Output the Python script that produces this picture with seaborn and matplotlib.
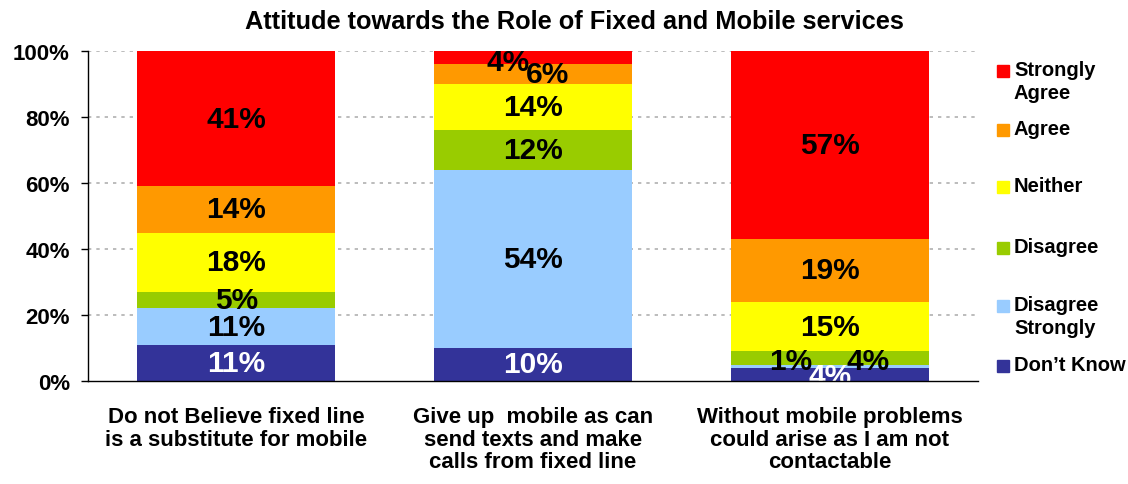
import matplotlib
matplotlib.use("Agg")
import matplotlib.pyplot as plt
from matplotlib.patches import Rectangle
import numpy as np
import pandas as pd
import seaborn as sns

# Survey data (percent of respondents)
statements = [
    "Do not Believe fixed line\nis a substitute for mobile",
    "Give up  mobile as can\nsend texts and make\ncalls from fixed line",
    "Without mobile problems\ncould arise as I am not\ncontactable",
]
responses = ["Don\u2019t Know", "Disagree\nStrongly", "Disagree", "Neither", "Agree", "Strongly\nAgree"]
dont_know = [11, 10, 4]
disagree_strongly = [11, 54, 1]
disagree = [5, 12, 4]
neither = [18, 14, 15]
agree = [14, 6, 19]
strongly_agree = [41, 4, 57]

colors = ["#333399", "#99CCFF", "#99CC00", "#FFFF00", "#FF9900", "#FF0000"]
label_colors = ["white", "black", "black", "black", "black", "black"]

series = [dont_know, disagree_strongly, disagree, neither, agree, strongly_agree]
values = np.array(series, dtype=float)          # shape (response, statement)
cum = np.cumsum(values, axis=0)

sns.set_theme(style="white")
plt.rcParams["font.family"] = ["Liberation Sans", "DejaVu Sans"]
plt.rcParams["font.weight"] = "bold"
plt.rcParams["text.color"] = "black"
plt.rcParams["xtick.color"] = "black"
plt.rcParams["ytick.color"] = "black"

fig = plt.figure(figsize=(11.28, 4.85), dpi=100)
ax = fig.add_axes([88 / 1128, 1 - 382 / 485, (978 - 88) / 1128, (382 - 52) / 485])

# Stack by overlaying cumulative totals, tallest first
for i in range(len(responses) - 1, -1, -1):
    df = pd.DataFrame({"statement": statements, "total": cum[i]})
    sns.barplot(data=df, x="statement", y="total", color=colors[i],
                saturation=1, width=0.667, ax=ax, zorder=2, edgecolor="none")

# Segment value labels; small segments are nudged aside
offsets = {(1, 5): (-0.084, -1.3), (1, 4): (0.05, 0.0),
           (2, 0): (0.0, -0.4)}
side_by_side = {(2, 1): -0.131, (2, 2): 0.128}
for i in range(len(responses)):
    for j in range(len(statements)):
        v = values[i, j]
        mid = cum[i, j] - v / 2
        dx, dy = offsets.get((j, i), (0.0, 0.0))
        if (j, i) in side_by_side:
            dx = side_by_side[(j, i)]
            mid = 6.1
        ax.text(j + dx, mid + dy, f"{int(v)}%", ha="center", va="center",
                fontsize=21.5, fontweight="bold", color=label_colors[i], zorder=3)

ax.set_ylim(0, 100)
ax.set_xlim(-0.5, 2.5)
ax.set_yticks(range(0, 101, 20))
ax.set_yticklabels([f"{t}%" for t in range(0, 101, 20)], fontsize=16, fontweight="bold")
ax.set_xticks(range(3))
ax.set_xticklabels(statements, fontsize=16, fontweight="bold", linespacing=1.1)
ax.set_xlabel("")
ax.set_ylabel("")
for t in range(20, 101, 20):
    ax.axhline(t, color="#b0b0b0", lw=1.2, ls=(0, (2, 3)), zorder=1)
for s in ["top", "right"]:
    ax.spines[s].set_visible(False)
for s in ["left", "bottom"]:
    ax.spines[s].set_color("black")
    ax.spines[s].set_linewidth(1.0)
ax.spines["bottom"].set_zorder(4)
ax.tick_params(axis="y", which="both", left=True, length=5, width=1, color="black", pad=8)
ax.tick_params(axis="x", bottom=False, pad=12)
ax.set_facecolor("white")

fig.text(574 / 1128, 1 - 22 / 485, "Attitude towards the Role of Fixed and Mobile services",
         ha="center", va="center", fontsize=18.3, fontweight="bold")

# Legend entries (top to bottom)
legend_rows = [(5, 72), (4, 131), (3, 188), (2, 249), (1, 307), (0, 367)]
for idx, ypx in legend_rows:
    fig.add_artist(Rectangle((997 / 1128, 1 - (ypx + 6) / 485), 12 / 1128, 12 / 485,
                             transform=fig.transFigure, color=colors[idx]))
    fig.text(1014 / 1128, 1 - (ypx - 11) / 485, responses[idx], ha="left", va="top",
             fontsize=14.5, fontweight="bold", linespacing=1.25)

fig.savefig("out.png", dpi=100, facecolor="white")
